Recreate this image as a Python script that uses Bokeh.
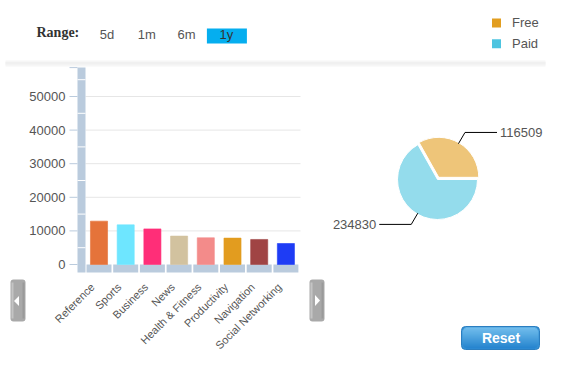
import math
from bokeh.plotting import figure
from bokeh.models import Range1d
from bokeh.core.properties import value
from bokeh.embed import file_html
from bokeh.resources import INLINE

# ---------------- data ----------------
categories = ["Reference", "Sports", "Business", "News", "Health & Fitness",
              "Productivity", "Navigation", "Social Networking"]
downloads = [12900, 11800, 10600, 8450, 7950, 7850, 7450, 6250]
bar_colors = ["#E5733A", "#6EE6FF", "#FF2E78", "#D2C29F", "#F38B8A",
              "#E29C1F", "#A04444", "#1E3CF5"]
y_ticks = [0, 10000, 20000, 30000, 40000, 50000]
y_tick_labels = ["0", "10000", "20000", "30000", "40000", "50000"]
y_minor = [5000, 15000, 25000, 35000, 45000, 55000]
y_top = 58600

pie_labels = ["Free", "Paid"]
pie_values = [116509, 234830]
pie_colors = ["#E29E20", "#4DC4E0"]

range_buttons = ["5d", "1m", "6m", "1y"]
range_selected = "1y"

# ---------------- layout helpers (page px -> canvas data) ----------------
W, H = 546, 354
def X(px):
    return px
def Y(py):
    return H - py

STEP = 26.7          # px per category
BAR0 = 98.5          # page x of first category centre
ZERO = 264.0         # page y of value 0
PPV = 168.0 / 50000  # px per value unit

def BX(px):
    return (px - BAR0) / STEP
def V(py):
    return (ZERO - py) / PPV

FONT = value("Liberation Sans")
TXT = "#555555"

p = figure(width=W, height=H, x_range=Range1d(0, W), y_range=Range1d(0, H),
           output_backend="svg", toolbar_location=None,
           x_axis_type=None, y_axis_type=None, min_border=0)
p.outline_line_color = None
p.background_fill_color = "white"
p.border_fill_color = "white"
p.extra_x_ranges = {"bx": Range1d(BX(0), BX(W))}
p.extra_y_ranges = {"by": Range1d(V(H), V(0))}

def rrect(cx, cy, w, h, r, **kw):
    try:
        p.rect(x=[cx], y=[cy], width=w, height=h, border_radius=r, **kw)
    except Exception:
        p.rect(x=[cx], y=[cy], width=w, height=h, **kw)

# ---------------- header: range selector ----------------
p.quad(left=[X(5)], right=[X(545)], top=[Y(60)], bottom=[Y(66)],
       fill_color="#F6F6F6", line_color=None)
p.quad(left=[X(5)], right=[X(545)], top=[Y(61.5)], bottom=[Y(64)],
       fill_color="#F0F0F0", line_color=None)

p.text(x=[X(36)], y=[Y(31.5)], text=["Range:"], text_font=value("Liberation Serif"),
       text_font_style="bold", text_font_size="14px", text_color="#333333",
       text_align="left", text_baseline="middle")

btn_x = [106.5 + 39.8 * i for i in range(len(range_buttons))]
sel = range_buttons.index(range_selected)
p.quad(left=[X(btn_x[sel] - 19.5)], right=[X(btn_x[sel] + 20.5)],
       top=[Y(28)], bottom=[Y(43)], fill_color="#05AEEF", line_color=None)
p.text(x=[X(bx) for bx in btn_x], y=[Y(34)] * len(btn_x), text=range_buttons,
       text_font=FONT, text_font_size="13px",
       text_color=["#333333" if b == range_selected else TXT for b in range_buttons],
       text_align="center", text_baseline="middle")

# ---------------- legend ----------------
p.rect(x=[X(496), X(496)], y=[Y(22.5), Y(43.3)], width=9, height=9,
       fill_color=pie_colors, line_color=None)
p.text(x=[X(511.5)] * 2, y=[Y(21.5), Y(42.8)], text=pie_labels, text_font=FONT,
       text_font_size="13px", text_color=TXT, text_align="left", text_baseline="middle")

# ---------------- bar chart ----------------
R = dict(x_range_name="bx", y_range_name="by")
idx = list(range(len(categories)))

# gridlines
p.segment(x0=[BX(85)] * 5, x1=[BX(300)] * 5, y0=y_ticks[1:], y1=y_ticks[1:],
          line_color="#E6E6E6", line_width=1, **R)
# canvas wall
p.quad(left=[BX(77)], right=[BX(85)], bottom=[V(272)], top=[y_top],
       fill_color="#BACBDD", line_color=None, **R)
p.segment(x0=[BX(77)] * len(y_minor), x1=[BX(85)] * len(y_minor), y0=y_minor, y1=y_minor,
          line_color="white", line_width=1, **R)
# tick marks
p.segment(x0=[BX(69)] * (len(y_ticks) + 1), x1=[BX(77)] * (len(y_ticks) + 1),
          y0=y_ticks + [y_top], y1=y_ticks + [y_top], line_color="#BACBDD", line_width=1, **R)
# canvas base
p.quad(left=[i - 0.468 for i in idx], right=[i + 0.468 for i in idx],
       bottom=[V(272)] * len(idx), top=[0] * len(idx),
       fill_color="#BACBDD", line_color=None, **R)
# bars
p.vbar(x=idx, top=downloads, bottom=0, width=0.64, fill_color=bar_colors,
       line_color=bar_colors, line_alpha=0.6, **R)
# y tick labels
p.text(x=[BX(65)] * len(y_ticks), y=y_ticks, text=y_tick_labels, text_font=FONT,
       text_font_size="13px", text_color=TXT, text_align="right", text_baseline="middle", **R)
# x labels
p.text(x=[i - 0.24 for i in idx], y=[V(284.5)] * len(idx), text=categories, text_font=FONT,
       text_font_size="11px", text_color=TXT, text_align="right", text_baseline="middle",
       angle=math.pi / 4, **R)

# scroll buttons
for (x0, x1, tri) in [(10, 25, [(18.5, 295.5), (18.5, 305.5), (13.5, 300.5)]),
                      (309, 324, [(314.5, 294.5), (314.5, 305.5), (319.5, 300)])]:
    rrect(X((x0 + x1) / 2), Y(300), x1 - x0, 42, 3, fill_color="#A9A9A9", line_color=None)
    p.quad(left=[X(x0 + 1)], right=[X(x0 + 3)], top=[Y(282)], bottom=[Y(318)],
           fill_color="#C4C4C4", line_color=None)
    p.quad(left=[X(x1 - 3)], right=[X(x1 - 1)], top=[Y(282)], bottom=[Y(318)],
           fill_color="#9A9A9A", line_color=None)
    p.patch(x=[X(a) for a, b in tri], y=[Y(b) for a, b in tri], fill_color="white", line_color=None)

# ---------------- pie ----------------
total = sum(pie_values)
cx, cy, rad = X(437), Y(179), 40
ang = 0.0
for i, v in enumerate(pie_values):
    a0 = ang
    a1 = ang + 2 * math.pi * v / total
    ang = a1
    mid = (a0 + a1) / 2
    off = 2.5 if i == 0 else 0.0
    ox, oy = cx + off * math.cos(mid), cy + off * math.sin(mid)
    p.wedge(x=[ox], y=[oy], radius=rad, start_angle=a0, end_angle=a1,
            direction="anticlock", fill_color=pie_colors[i], fill_alpha=0.6,
            line_color="white", line_width=1)
    sx, sy = ox + 39 * math.cos(mid), oy + 39 * math.sin(mid)
    ex, ey = ox + 52 * math.cos(mid), oy + 52 * math.sin(mid)
    side = 1 if math.cos(mid) >= 0 else -1
    fx = ex + side * 32
    p.line(x=[sx, ex, fx], y=[sy, ey, ey], line_color="black", line_width=1)
    p.text(x=[fx + side * 3], y=[ey], text=[str(v)], text_font=FONT, text_font_size="13px",
           text_color=TXT, text_align="left" if side > 0 else "right", text_baseline="middle")

# ---------------- reset button ----------------
rrect(X(500), Y(337.5), 78, 23, 4, fill_color="#3592D6", line_color="#2B7EC0")
top_c, bot_c = (135, 204, 244), (34, 128, 205)
rows = 21
for r in range(rows):
    d = min(r, rows - 1 - r)
    inset = {0: 4.0, 1: 2.5, 2: 1.8}.get(d, 1.0)
    t = r / (rows - 1)
    col = tuple(int(top_c[k] + (bot_c[k] - top_c[k]) * t) for k in range(3))
    p.quad(left=[X(461 + inset)], right=[X(539 - inset)], top=[Y(327 + r)], bottom=[Y(328 + r)],
           fill_color="#%02x%02x%02x" % col, line_color=None)
p.text(x=[X(500.5)], y=[Y(337.5)], text=["Reset"], text_font=FONT, text_font_style="bold",
       text_font_size="14px", text_color="white", text_align="center", text_baseline="middle")

open("out.html", "w").write(file_html(p, INLINE))
